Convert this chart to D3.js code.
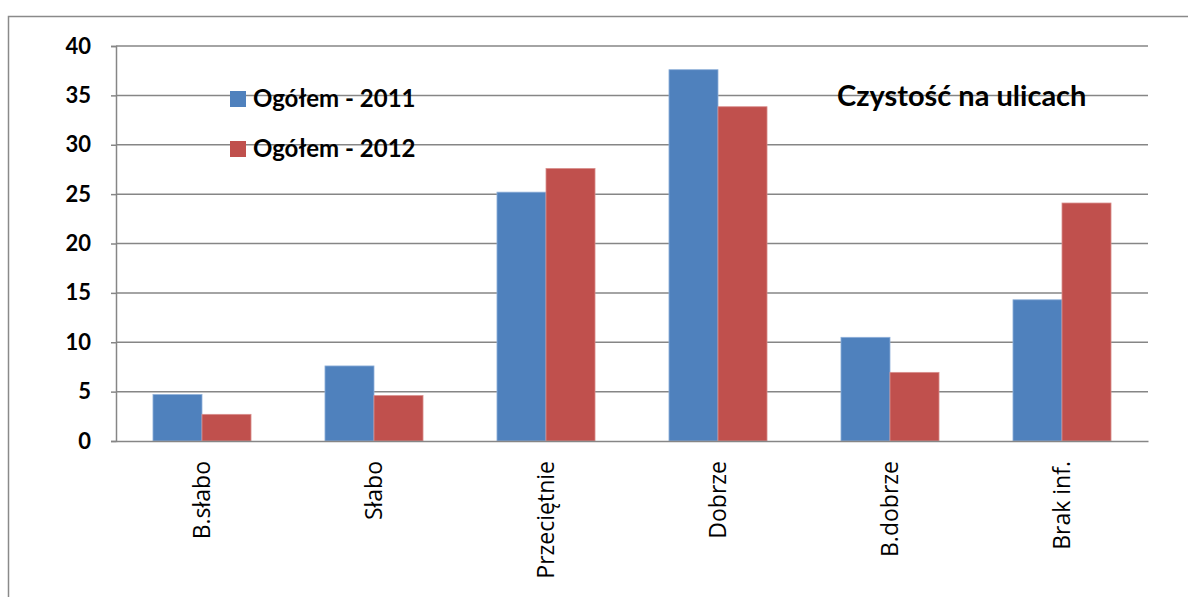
<!DOCTYPE html>
<html><head><meta charset="utf-8">
<script src="https://cdn.jsdelivr.net/npm/d3@7"></script>
<style>body{margin:0;background:#fff}svg{display:block}</style>
</head><body>
<svg id="c" width="1188" height="597"></svg>
<script>
const categories = ["B.słabo","Słabo","Przeciętnie","Dobrze","B.dobrze","Brak inf."];
const series2011 = [4.7, 7.6, 25.2, 37.6, 10.5, 14.3];
const series2012 = [2.7, 4.6, 27.6, 33.85, 6.95, 24.1];
const seriesNames = ["Ogółem - 2011","Ogółem - 2012"];
const colors = ["#4F81BD","#C0504D"];
const yTicks = [0,5,10,15,20,25,30,35,40];
const title = "Czystość na ulicach";

const svg = d3.select("#c");
const L=116, R=1148, T=46, B=441;
const grid="#868686";

svg.append("rect").attr("x",8.5).attr("y",16.5).attr("width",1200).attr("height",600)
  .attr("fill","none").attr("stroke","#8a8a8a").attr("stroke-width",1.5);

const y = d3.scaleLinear().domain([0,40]).range([B,T]);
const x0 = d3.scaleBand().domain(categories).range([L,R]).paddingInner(0.43).paddingOuter(0.215);
const x1 = d3.scaleBand().domain([0,1]).range([0,x0.bandwidth()]);

// gridlines
svg.append("g").selectAll("line").data(yTicks.filter(d=>d>0)).join("line")
  .attr("x1",L).attr("x2",R).attr("y1",d=>y(d)).attr("y2",d=>y(d))
  .attr("stroke",grid).attr("stroke-width",1.5);

// y axis
const ya = svg.append("g").attr("transform",`translate(${L},0)`)
  .call(d3.axisLeft(y).tickValues(yTicks).tickSize(5).tickPadding(20));
ya.select(".domain").attr("stroke",grid).attr("stroke-width",1.5);
ya.selectAll(".tick line").attr("stroke",grid).attr("stroke-width",1.5);
ya.selectAll("text").attr("font-family","Lato, 'Open Sans', sans-serif").attr("font-weight","bold")
  .attr("font-size",22).attr("fill","#000");

// bars
const data = categories.map((c,i)=>({c, v:[series2011[i],series2012[i]]}));
const g = svg.append("g").selectAll("g").data(data).join("g")
  .attr("transform",d=>`translate(${x0(d.c)},0)`);
g.selectAll("rect").data(d=>d.v.map((v,k)=>({v,k}))).join("rect")
  .attr("x",d=>x1(d.k)).attr("width",x1.bandwidth())
  .attr("y",d=>y(d.v)).attr("height",d=>B-y(d.v))
  .attr("fill",d=>colors[d.k])
  .attr("stroke",d=>d.k?"#d98f8d":"#8fb0d9").attr("stroke-width",0.8);

// x axis
const xa = svg.append("g").attr("transform",`translate(0,${B})`)
  .call(d3.axisBottom(x0).tickSize(0).tickPadding(0));
xa.select(".domain").attr("stroke",grid).attr("stroke-width",1.5);
xa.selectAll(".tick text")
  .attr("transform","translate(0,20) rotate(-90)")
  .attr("text-anchor","end").attr("dy","0.35em").attr("x",0).attr("y",0)
  .attr("font-family","'Open Sans', sans-serif").attr("font-size",23).attr("fill","#000");

// legend
const lg = svg.append("g");
seriesNames.forEach((n,i)=>{
  lg.append("rect").attr("x",230).attr("y",91+i*50).attr("width",16).attr("height",16).attr("fill",colors[i]);
  lg.append("text").attr("x",253).attr("y",107+i*50).text(n)
    .attr("font-family","Lato, 'Open Sans', sans-serif").attr("font-weight","bold").attr("font-size",24);
});

svg.append("text").attr("x",837).attr("y",106).text(title)
  .attr("font-family","Lato, 'Open Sans', sans-serif").attr("font-weight","bold").attr("font-size",29);
</script>
</body></html>
